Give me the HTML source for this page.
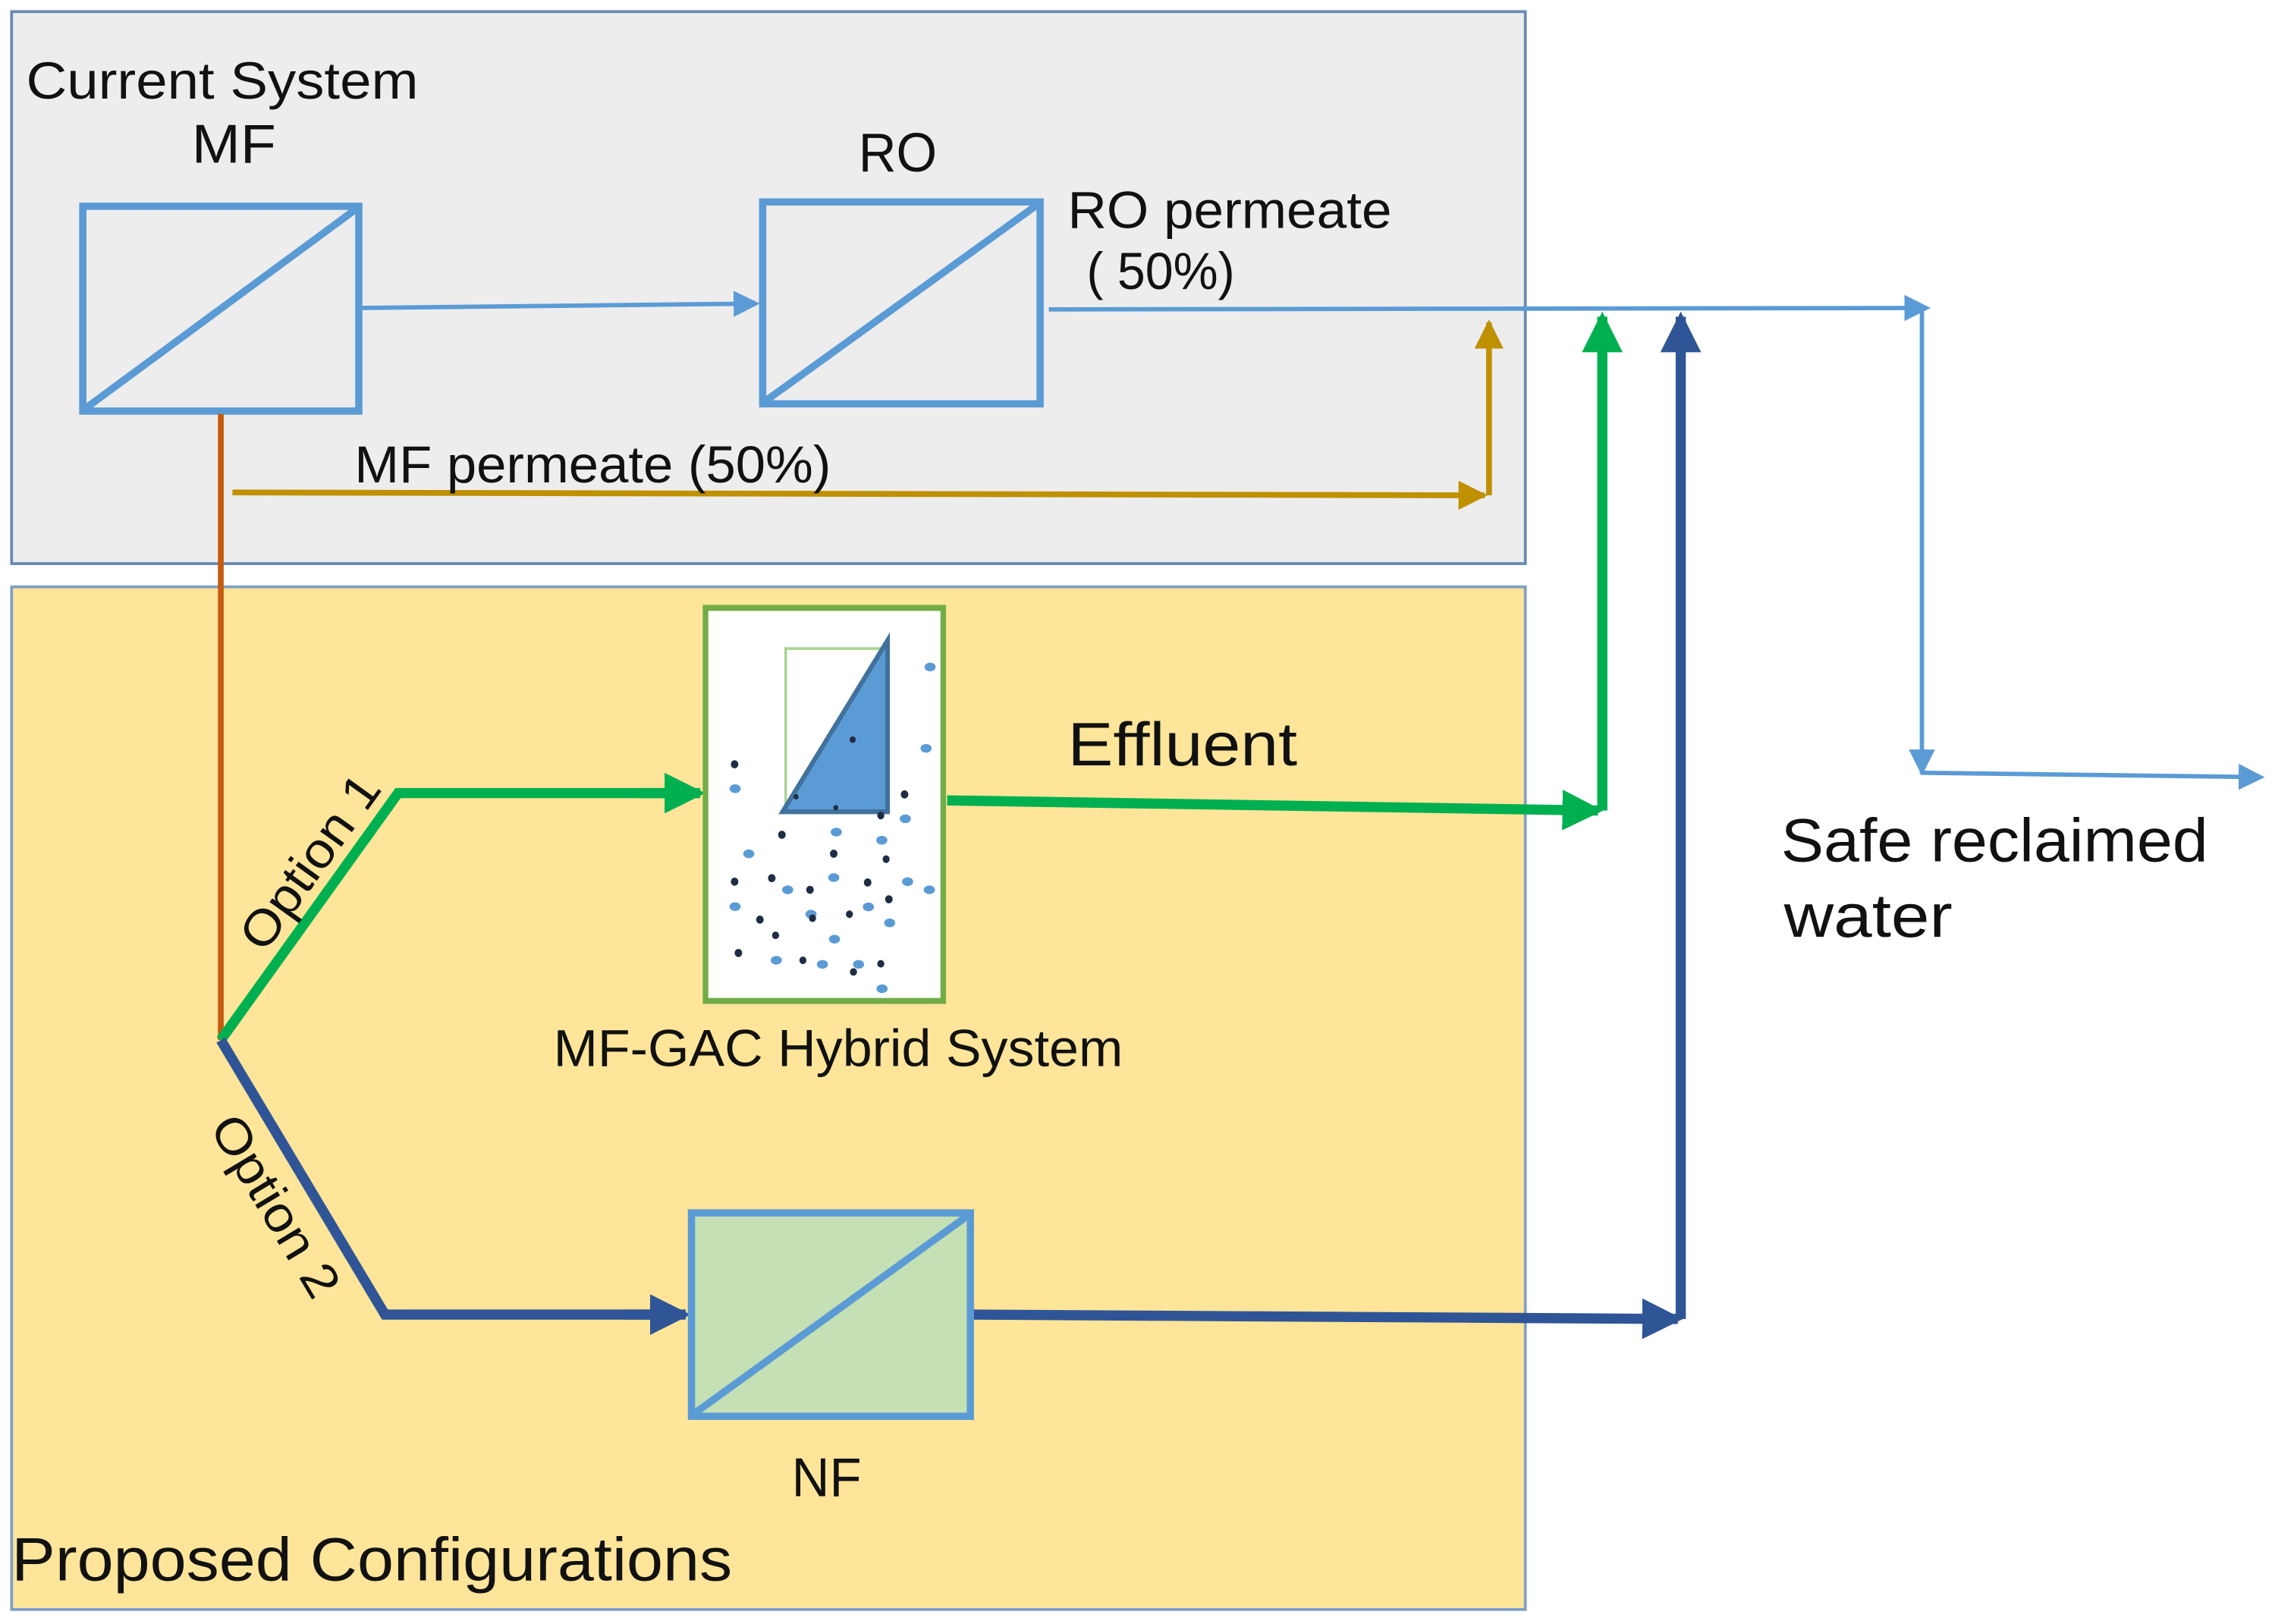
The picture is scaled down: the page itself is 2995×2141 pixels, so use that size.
<!DOCTYPE html>
<html><head><meta charset="utf-8"><style>
html,body{margin:0;padding:0;background:#fff;}
svg{display:block;}
text{font-family:"Liberation Sans",sans-serif;fill:#111;}
</style></head><body>
<svg width="2995" height="2141" viewBox="0 0 1564 1118" preserveAspectRatio="none" xmlns="http://www.w3.org/2000/svg">
<defs>
<marker id="aLB" markerWidth="6" markerHeight="6" refX="5" refY="3" orient="auto" markerUnits="strokeWidth"><path d="M0,0 L6,3 L0,6 z" fill="#5b9bd5"/></marker>
<marker id="aG" markerWidth="4" markerHeight="4" refX="3.5" refY="2" orient="auto" markerUnits="strokeWidth"><path d="M0,0 L4,2 L0,4 z" fill="#00b050"/></marker>
<marker id="aB" markerWidth="4" markerHeight="4" refX="3.5" refY="2" orient="auto" markerUnits="strokeWidth"><path d="M0,0 L4,2 L0,4 z" fill="#2f5597"/></marker>
<marker id="aY" markerWidth="5" markerHeight="5" refX="4.5" refY="2.5" orient="auto" markerUnits="strokeWidth"><path d="M0,0 L5,2.5 L0,5 z" fill="#bf9000"/></marker>
</defs>
<rect x="0" y="0" width="1564" height="1118" fill="#fff"/>
<!-- boxes -->
<rect x="8" y="8" width="1042" height="380" fill="#ededed" stroke="#6a8ab5" stroke-width="2"/>
<rect x="8" y="404" width="1042" height="704" fill="#fee599" stroke="#7fa0c8" stroke-width="2"/>

<!-- MF / RO -->
<rect x="57" y="142" width="190" height="141" fill="none" stroke="#5b9bd5" stroke-width="5"/>
<line x1="59" y1="281" x2="245" y2="144" stroke="#5b9bd5" stroke-width="5"/>
<rect x="525" y="139" width="191" height="139" fill="none" stroke="#5b9bd5" stroke-width="5"/>
<line x1="527" y1="276" x2="714" y2="141" stroke="#5b9bd5" stroke-width="5"/>

<!-- orange -->
<line x1="152" y1="285" x2="152" y2="716" stroke="#c55a11" stroke-width="4"/>

<!-- MF->RO -->
<line x1="249" y1="212" x2="520" y2="209" stroke="#5b9bd5" stroke-width="3" marker-end="url(#aLB)"/>
<!-- RO permeate line -->
<line x1="722" y1="213" x2="1326" y2="212" stroke="#5b9bd5" stroke-width="3" marker-end="url(#aLB)"/>
<polyline points="1323,212 1323,533" fill="none" stroke="#5b9bd5" stroke-width="3"/>
<line x1="1323" y1="532" x2="1556" y2="535" stroke="#5b9bd5" stroke-width="3" marker-end="url(#aLB)"/>
<line x1="1323" y1="515" x2="1323" y2="531" stroke="#5b9bd5" stroke-width="3" marker-end="url(#aLB)"/>

<!-- gold -->
<line x1="160" y1="339" x2="1022" y2="341" stroke="#bf9000" stroke-width="4" marker-end="url(#aY)"/>
<line x1="1025" y1="341" x2="1025" y2="222" stroke="#bf9000" stroke-width="4" marker-end="url(#aY)"/>

<!-- green -->
<polyline points="152,716 274,546 460,546" fill="none" stroke="#00b050" stroke-width="7"/>
<line x1="440" y1="546" x2="482" y2="546" stroke="#00b050" stroke-width="7" marker-end="url(#aG)"/>
<line x1="652" y1="551" x2="1100" y2="558" stroke="#00b050" stroke-width="7" marker-end="url(#aG)"/>
<line x1="1103" y1="558" x2="1103" y2="218" stroke="#00b050" stroke-width="7" marker-end="url(#aG)"/>

<!-- blue -->
<polyline points="152,716 265,905 450,905" fill="none" stroke="#2f5597" stroke-width="7"/>
<line x1="430" y1="905" x2="472" y2="905" stroke="#2f5597" stroke-width="7" marker-end="url(#aB)"/>
<line x1="668" y1="905" x2="1155" y2="908" stroke="#2f5597" stroke-width="7" marker-end="url(#aB)"/>
<line x1="1157" y1="908" x2="1157" y2="218" stroke="#2f5597" stroke-width="7" marker-end="url(#aB)"/>

<!-- GAC box -->
<g transform="translate(470 407.3) scale(0.1741 0.1866)">
<rect x="90" y="60" width="940" height="1450" fill="#fff" stroke="#70ad47" stroke-width="22"/>
<rect x="407" y="210" width="393" height="600" fill="none" stroke="#a9d18e" stroke-width="10"/>
<polygon points="395,812 810,180 810,812" fill="#5b9bd5" stroke="#41719c" stroke-width="18"/>
<g fill="#5b9bd5">
<ellipse cx="978" cy="278" rx="22" ry="16"/><ellipse cx="962" cy="578" rx="22" ry="16"/><ellipse cx="207" cy="727" rx="22" ry="16"/>
<ellipse cx="880" cy="838" rx="22" ry="16"/><ellipse cx="607" cy="887" rx="22" ry="16"/><ellipse cx="787" cy="917" rx="22" ry="16"/>
<ellipse cx="261" cy="967" rx="22" ry="16"/><ellipse cx="597" cy="1055" rx="22" ry="16"/><ellipse cx="415" cy="1100" rx="22" ry="16"/>
<ellipse cx="889" cy="1070" rx="22" ry="16"/><ellipse cx="975" cy="1100" rx="22" ry="16"/><ellipse cx="207" cy="1162" rx="22" ry="16"/>
<ellipse cx="507" cy="1190" rx="22" ry="16"/><ellipse cx="734" cy="1163" rx="22" ry="16"/><ellipse cx="818" cy="1222" rx="22" ry="16"/>
<ellipse cx="600" cy="1282" rx="22" ry="16"/><ellipse cx="370" cy="1360" rx="22" ry="16"/><ellipse cx="552" cy="1375" rx="22" ry="16"/>
<ellipse cx="695" cy="1375" rx="22" ry="16"/><ellipse cx="788" cy="1465" rx="22" ry="16"/>
</g>
<g fill="#1f2d44">
<circle cx="205" cy="637" r="15"/><circle cx="877" cy="748" r="15"/><circle cx="783" cy="826" r="14"/><circle cx="392" cy="897" r="15"/>
<circle cx="597" cy="967" r="15"/><circle cx="804" cy="987" r="14"/><circle cx="205" cy="1070" r="15"/><circle cx="352" cy="1057" r="15"/>
<circle cx="503" cy="1100" r="15"/><circle cx="731" cy="1073" r="15"/><circle cx="815" cy="1135" r="15"/><circle cx="659" cy="1190" r="14"/>
<circle cx="305" cy="1210" r="15"/><circle cx="367" cy="1268" r="14"/><circle cx="220" cy="1333" r="15"/><circle cx="475" cy="1360" r="14"/>
<circle cx="675" cy="1403" r="14"/><circle cx="783" cy="1373" r="14"/><circle cx="513" cy="1205" r="14"/>
<circle cx="672" cy="546" r="12"/><circle cx="448" cy="757" r="10"/><circle cx="605" cy="797" r="10"/>
</g>
</g>

<!-- NF -->
<rect x="476" y="835" width="192" height="140" fill="#c5e0b4" stroke="#5b9bd5" stroke-width="5"/>
<line x1="478" y1="973" x2="666" y2="837" stroke="#5b9bd5" stroke-width="5"/>

<!-- labels -->
<text x="18" y="68" font-size="36" textLength="270" lengthAdjust="spacingAndGlyphs">Current System</text>
<text x="132" y="112" font-size="38" textLength="58" lengthAdjust="spacingAndGlyphs">MF</text>
<text x="591" y="118" font-size="38" textLength="54" lengthAdjust="spacingAndGlyphs">RO</text>
<text x="735" y="157" font-size="36" textLength="223" lengthAdjust="spacingAndGlyphs">RO permeate</text>
<text x="748" y="199" font-size="36" textLength="102" lengthAdjust="spacingAndGlyphs">( 50%)</text>
<text x="244" y="332" font-size="36" textLength="328" lengthAdjust="spacingAndGlyphs">MF permeate (50%)</text>
<text x="735" y="527" font-size="42" textLength="158" lengthAdjust="spacingAndGlyphs">Effluent</text>
<text x="381" y="734" font-size="36" textLength="392" lengthAdjust="spacingAndGlyphs">MF-GAC Hybrid System</text>
<text x="545" y="1030" font-size="38" textLength="48" lengthAdjust="spacingAndGlyphs">NF</text>
<text x="8" y="1088" font-size="42" textLength="496" lengthAdjust="spacingAndGlyphs">Proposed Configurations</text>
<text x="1226" y="593" font-size="42" textLength="294" lengthAdjust="spacingAndGlyphs">Safe reclaimed</text>
<text x="1228" y="645" font-size="42" textLength="116" lengthAdjust="spacingAndGlyphs">water</text>
<text transform="translate(213 593) rotate(-54.3)" x="0" y="12" font-size="34" text-anchor="middle" textLength="140" lengthAdjust="spacingAndGlyphs">Option 1</text>
<text transform="translate(190 830) rotate(59)" x="0" y="12" font-size="34" text-anchor="middle" textLength="140" lengthAdjust="spacingAndGlyphs">Option 2</text>
</svg>
</body></html>
